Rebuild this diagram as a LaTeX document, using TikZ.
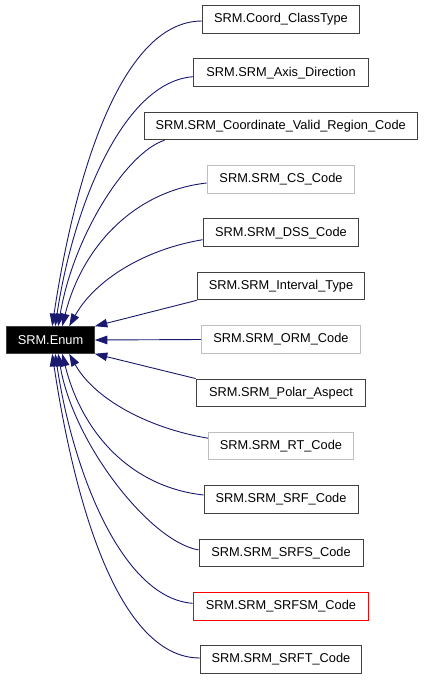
\documentclass[tikz,border=0pt]{standalone}
\usepackage{fontspec}
\setmainfont{Liberation Sans}
\usetikzlibrary{arrows.meta}
\definecolor{edgecol}{HTML}{191970}
\definecolor{graybd}{HTML}{BFBFBF}
\definecolor{darkbd}{HTML}{404040}
\begin{document}
\begin{tikzpicture}[x=1pt,y=-1pt,
  box/.style={draw=darkbd, line width=1pt, fill=white, minimum height=27.5pt, inner sep=0pt,
    font=\fontsize{12.8}{15}\selectfont},
  graybox/.style={box, draw=graybd},
  redbox/.style={box, draw=red},
  enumbox/.style={box, draw=darkbd, fill=black, text=white, minimum height=26.6pt, minimum width=87.6pt},
  edge/.style={draw=edgecol, line width=0.9pt, -{Triangle[length=12.5pt,width=8.5pt]}}]
\useasboundingbox[fill=white] (0,0) rectangle (424,680);

\node[enumbox] (enum) at (50.5,340) {SRM.Enum};

\node[box, minimum width=157pt] (b1) at (281,19.3) {SRM.Coord\_ClassType};
\node[box, minimum width=174.7pt] (b2) at (281,72.7) {SRM.SRM\_Axis\_Direction};
\node[box, minimum width=273.3pt] (b3) at (280.7,126.0) {SRM.SRM\_Coordinate\_Valid\_Region\_Code};
\node[graybox, minimum width=147.7pt] (b4) at (281,179.4) {SRM.SRM\_CS\_Code};
\node[box, minimum width=155.7pt] (b5) at (281,232.7) {SRM.SRM\_DSS\_Code};
\node[box, minimum width=167.7pt] (b6) at (281,286.1) {SRM.SRM\_Interval\_Type};
\node[graybox, minimum width=159pt] (b7) at (281,339.5) {SRM.SRM\_ORM\_Code};
\node[box, minimum width=169.7pt] (b8) at (281,392.8) {SRM.SRM\_Polar\_Aspect};
\node[graybox, minimum width=145pt] (b9) at (281,446.2) {SRM.SRM\_RT\_Code};
\node[box, minimum width=154pt] (b10) at (281,499.5) {SRM.SRM\_SRF\_Code};
\node[box, minimum width=164pt] (b11) at (281,552.9) {SRM.SRM\_SRFS\_Code};
\node[redbox, minimum width=175.7pt] (b12) at (281,606.3) {SRM.SRM\_SRFSM\_Code};
\node[box, minimum width=161pt] (b13) at (281,659.6) {SRM.SRM\_SRFT\_Code};

\draw[edge] ([yshift=-1.7pt]b1.west) .. controls +(-82,0) and +(22,-147) .. ([xshift=46pt]enum.north west);
\draw[edge] ([yshift=-4pt]b2.west) .. controls +(-70,5) and +(18,-120) .. ([xshift=49pt]enum.north west);
\draw[edge] ([xshift=21pt]b3.south west) .. controls +(-38,12) and +(15,-90) .. ([xshift=52pt]enum.north west);
\draw[edge] ([yshift=-3.6pt]b4.west) .. controls +(-72,8) and +(20,-80) .. ([xshift=56pt]enum.north west);
\draw[edge] ([yshift=-7pt]b5.west) .. controls +(-60,10) and +(25,-45) .. ([xshift=63pt]enum.north west);
\draw[edge] (b6.south west) -- (enum.north east);
\draw[edge] (b7.west) -- (enum.east);
\draw[edge] (b8.north west) -- (enum.south east);
\draw[edge] ([yshift=8pt]b9.west) .. controls +(-60,-10) and +(25,45) .. ([xshift=63pt]enum.south west);
\draw[edge] ([yshift=4.5pt]b10.west) .. controls +(-72,-8) and +(20,80) .. ([xshift=56pt]enum.south west);
\draw[edge] ([yshift=3pt]b11.west) .. controls +(-48,-8) and +(15,90) .. ([xshift=52pt]enum.south west);
\draw[edge] ([yshift=3pt]b12.west) .. controls +(-70,-5) and +(18,120) .. ([xshift=49pt]enum.south west);
\draw[edge] ([yshift=1.6pt]b13.west) .. controls +(-82,0) and +(22,147) .. ([xshift=46pt]enum.south west);
\end{tikzpicture}
\end{document}
